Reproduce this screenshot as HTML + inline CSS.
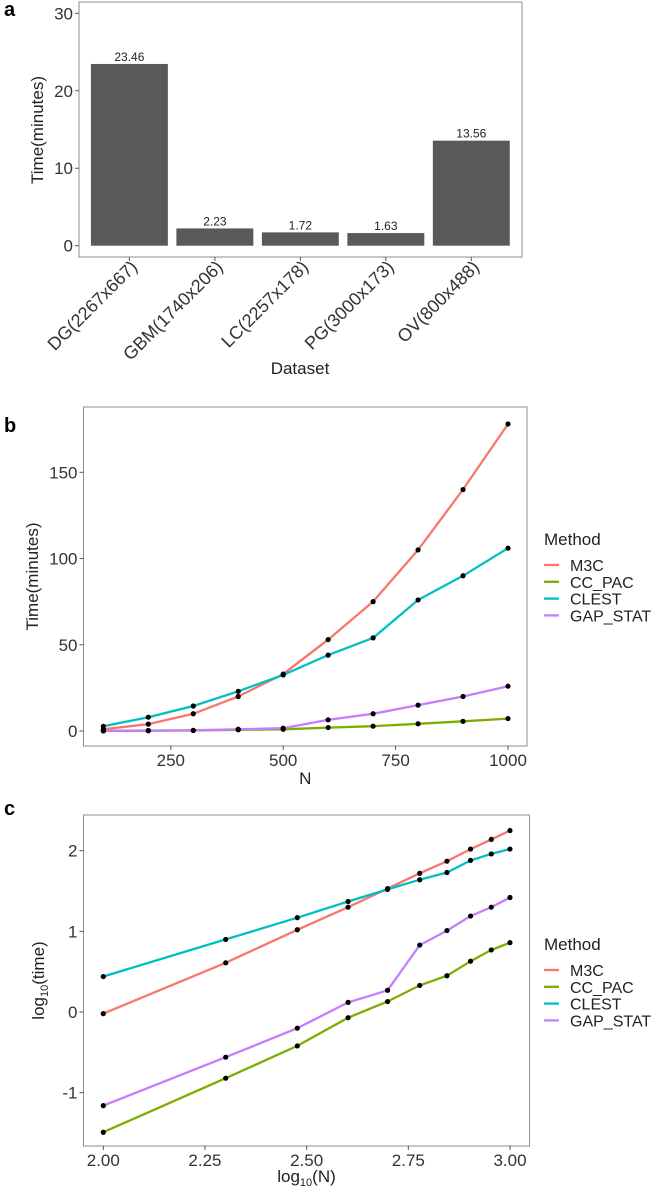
<!DOCTYPE html>
<html><head><meta charset="utf-8"><style>
html,body{margin:0;padding:0;background:#fff}
svg{display:block;font-family:"Liberation Sans",sans-serif}
</style></head><body>
<svg id="s" width="659" height="1188" viewBox="0 0 659 1188"></svg>
<script>
const barCats=["DG(2267x667)","GBM(1740x206)","LC(2257x178)","PG(3000x173)","OV(800x488)"];
const barVals=[23.46,2.23,1.72,1.63,13.56];
const barLabels=["23.46","2.23","1.72","1.63","13.56"];
const aTicks=[0,10,20,30];
const nVals=[100,200,300,400,500,600,700,800,900,1000];
const m3c=[1,4,10,20,33,53,75,105,140,178];
const ccpac=[0.03,0.15,0.3,0.7,1.0,2.0,2.8,4.2,5.6,7.2];
const clest=[2.7,8,14.5,23,32.5,44,54,76,90,106];
const gap=[0.07,0.28,0.4,1.0,1.6,6.5,10,15,20,26];
const bXTicks=[250,500,750,1000];
const bYTicks=[0,50,100,150];
const logN=[2,2.301,2.477,2.602,2.699,2.778,2.845,2.903,2.954,3];
const lm3c=[-0.02,0.61,1.02,1.30,1.53,1.72,1.87,2.02,2.14,2.25];
const lccpac=[-1.49,-0.82,-0.42,-0.07,0.13,0.33,0.45,0.63,0.77,0.86];
const lclest=[0.44,0.90,1.17,1.37,1.52,1.64,1.73,1.88,1.96,2.02];
const lgap=[-1.16,-0.56,-0.20,0.12,0.27,0.83,1.01,1.19,1.30,1.42];
const cXTicks=[2.00,2.25,2.50,2.75,3.00];
const cXLabels=["2.00","2.25","2.50","2.75","3.00"];
const cYTicks=[-1,0,1,2];
const methods=["M3C","CC_PAC","CLEST","GAP_STAT"];
const colors=["#F8766D","#7CAE00","#00BFC4","#C77CFF"];

const svg=document.getElementById('s');
const NS="http://www.w3.org/2000/svg";
function mk(tag,attrs,text,parent){
  const e=document.createElementNS(NS,tag);
  for(const k in attrs)e.setAttribute(k,attrs[k]);
  if(text!==undefined)e.textContent=text;
  (parent||svg).appendChild(e);return e;
}
function lin(d0,d1,r0,r1){return v=>r0+(v-d0)*(r1-r0)/(d1-d0);}

// ---------- Panel a ----------
{
  const g=mk('g',{});
  
  
  const t=mk('text',{x:4,y:16,'font-size':20,'font-weight':'bold'},'a',g);
  
  const L=79,R=522,T=2,B=257;
  const y=lin(0,30,245.7,13.3);
  const xc=lin(0,4,129.4,471.3);
  const step=(471.3-129.4)/4;
  const fr=mk('rect',{x:L,y:T,width:R-L,height:B-T,fill:'none',stroke:'#8c8c8c','stroke-width':1},undefined,g);
  
  aTicks.forEach(v=>{
    mk('line',{x1:L-4,x2:L,y1:y(v),y2:y(v),stroke:'#555'},undefined,g);
    const tt=mk('text',{x:L-6,y:y(v)+6,'font-size':17,'text-anchor':'end',fill:'#333'},String(v),g);
    
  });
  barVals.forEach((v,i)=>{
    const w=step*0.9;
    const r=mk('rect',{x:xc(i)-w/2,y:y(v),width:w,height:y(0)-y(v),fill:'#595959'},undefined,g);
    
    const lb=mk('text',{x:xc(i),y:y(v)-3,'font-size':12,'text-anchor':'middle',fill:'#222'},barLabels[i],g);
    
    mk('line',{x1:xc(i),x2:xc(i),y1:B,y2:B+4,stroke:'#555'},undefined,g);
    const cx=xc(i)+9,cy=B+11;
    const tl=mk('text',{x:cx,y:cy,'font-size':18,'text-anchor':'end',fill:'#333',transform:`rotate(-45 ${cx} ${cy})`},barCats[i],g);
    
  });
  const xt=mk('text',{x:300,y:374,'font-size':17,'text-anchor':'middle',fill:'#222'},'Dataset',g);
  
  const yt=mk('text',{x:0,y:0,'font-size':17,'text-anchor':'middle',fill:'#222',transform:'translate(43,130) rotate(-90)'},'Time(minutes)',g);
  
}

function linePanel(opts){
  const g=mk('g',{});
  
  
  const t=mk('text',{x:4,y:opts.letterY,'font-size':20,'font-weight':'bold'},opts.letter,g);
  
  const {L,R,T,B,x,y}=opts;
  const fr=mk('rect',{x:L,y:T,width:R-L,height:B-T,fill:'none',stroke:'#8c8c8c','stroke-width':1},undefined,g);
  
  opts.yTicks.forEach(v=>{
    mk('line',{x1:L-4,x2:L,y1:y(v),y2:y(v),stroke:'#555'},undefined,g);
    const tt=mk('text',{x:L-6,y:y(v)+6,'font-size':17,'text-anchor':'end',fill:'#333'},String(v),g);
    
  });
  opts.xTicks.forEach((v,i)=>{
    mk('line',{x1:x(v),x2:x(v),y1:B,y2:B+4,stroke:'#555'},undefined,g);
    const tt=mk('text',{x:x(v),y:B+20,'font-size':17,'text-anchor':'middle',fill:'#333'},opts.xLabels[i],g);
    
  });
  opts.series.forEach((s,k)=>{
    const d=s.map((v,i)=>(i?'L':'M')+x(opts.xs[i]).toFixed(1)+' '+y(v).toFixed(1)).join(' ');
    const p=mk('path',{d:d,fill:'none',stroke:colors[k],'stroke-width':2.3},undefined,g);
    
  });
  opts.series.forEach((s,k)=>{
    s.forEach((v,i)=>{
      const c=mk('circle',{cx:x(opts.xs[i]),cy:y(v),r:2.6,fill:'#000'},undefined,g);
      
    });
  });
  const xt=mk('text',{x:(L+R)/2,y:opts.xTitleY,'font-size':17,'text-anchor':'middle',fill:'#222'},opts.xTitle,g);
  
  const yt=mk('text',{x:0,y:0,'font-size':17,'text-anchor':'middle',fill:'#222',transform:`translate(${opts.yTitleX},${(T+B)/2}) rotate(-90)`},opts.yTitle,g);
  
  if(opts.yTitleSub){yt.textContent='';
    yt.appendChild(document.createTextNode('log'));
    mk('tspan',{'font-size':11,dy:4},'10',yt);
    mk('tspan',{dy:-4},'(time)',yt);
  }
  if(opts.xTitleSub){xt.textContent='';
    xt.appendChild(document.createTextNode('log'));
    mk('tspan',{'font-size':11,dy:4},'10',xt);
    mk('tspan',{dy:-4},'(N)',xt);
  }
  const lg=mk('g',{},undefined,g);
  
  const lt=mk('text',{x:544,y:opts.legY+6,'font-size':17,fill:'#222'},'Method',lg);
  
  methods.forEach((m,k)=>{
    const yy=opts.legY+26+k*16.8;
    const ln=mk('line',{x1:544,x2:559,y1:yy,y2:yy,stroke:colors[k],'stroke-width':2.3},undefined,lg);
    
    const tx=mk('text',{x:570,y:yy+6,'font-size':16,fill:'#222'},m,lg);
    
  });
}

linePanel({name:'panel-b',letter:'b',letterY:432,L:83.5,R:527,T:407,B:746,
  x:lin(250,1000,170.8,508),y:lin(0,150,731,472.3),
  xs:nVals,series:[m3c,ccpac,clest,gap],xTicks:bXTicks,xLabels:bXTicks.map(String),yTicks:bYTicks,
  xTitle:'N',xTitleY:784,yTitle:'Time(minutes)',yTitleX:38,legY:539});

linePanel({name:'panel-c',letter:'c',letterY:815,L:83.5,R:529.5,T:815,B:1146,
  x:lin(2,3,103.3,510),y:lin(-1,2,1092.7,850.7),
  xs:logN,series:[lm3c,lccpac,lclest,lgap],xTicks:cXTicks,xLabels:cXLabels,yTicks:cYTicks,
  xTitle:'log10(N)',xTitleY:1182,xTitleSub:true,yTitle:'log10(time)',yTitleSub:true,yTitleX:44,legY:944});
</script>
</body></html>
